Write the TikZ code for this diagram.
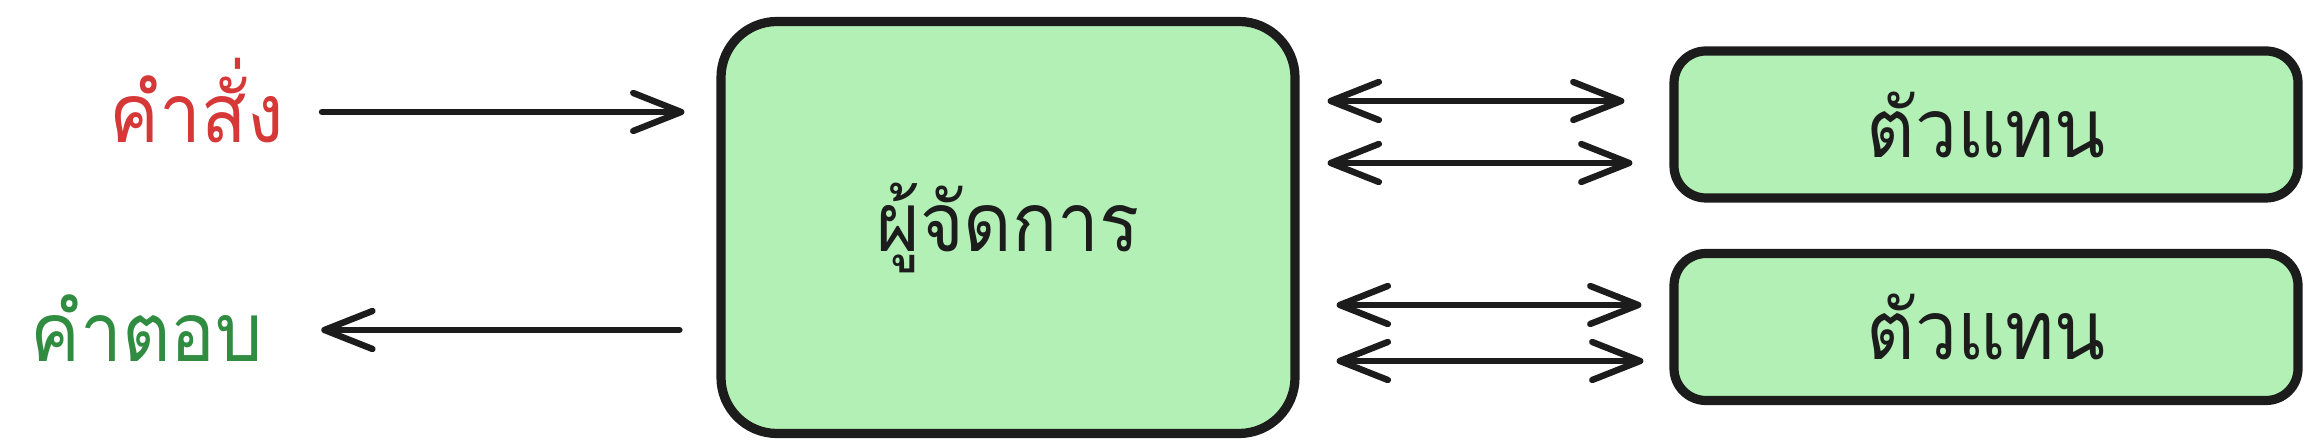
\documentclass[tikz,border=0pt]{standalone}
\usepackage{fontspec}
\usepackage{tikz}
\usetikzlibrary{calc, positioning, arrows.meta}
\newfontfamily\thaifont[Script=Thai, FakeStretch=0.91]{Loma}
\definecolor{InkBlack}{RGB}{28, 28, 28}
\definecolor{MintFill}{RGB}{178, 240, 181}
\definecolor{OrderRed}{RGB}{214, 56, 56}
\definecolor{ReplyGreen}{RGB}{48, 140, 64}

\begin{document}
\begin{tikzpicture}[x=0.5pt, y=0.5pt,
    box/.style={draw=InkBlack, fill=MintFill, line width=4.6pt, inner sep=0pt,
        font=\thaifont\fontsize{41}{48}\selectfont, text=InkBlack},
    bigbox/.style={box, rounded corners=28pt, minimum width=287pt, minimum height=206pt},
    agentbox/.style={box, rounded corners=16pt, minimum width=312pt, minimum height=73.5pt},
    label/.style={inner sep=0pt, font=\thaifont\fontsize{41}{48}\selectfont},
    flow/.style={InkBlack, line width=3.2pt, line cap=round,
        -{Straight Barb[length=24pt, width=19pt, round]}},
    duplex/.style={flow, {Straight Barb[length=24pt, width=19pt, round]}-{Straight Barb[length=24pt, width=19pt, round]}}]
    \useasboundingbox (0,0) rectangle (2318,448);

    % Entrada y salida
    \node[label, text=OrderRed, anchor=base east] (cmd) at (284,305) {คำสั่ง};
    \node[label, text=ReplyGreen, anchor=base west] (reply) at (30,86) {คำตอบ};

    % Gestor
    \node[bigbox] (mgr) at (1008,220.5) {\raisebox{-12pt}{ผู้จัดการ}};

    % Agentes
    \node[agentbox] (ag1) at (1986,323.5) {ตัวแทน};
    \node[agentbox] (ag2) at (1986,121) {ตัวแทน};

    % Flechas de entrada y salida
    \draw[flow, shorten <=19pt, shorten >=16pt] ([yshift=15.5pt]cmd.base east) -- ([yshift=15.5pt]cmd.base east -| mgr.west);
    \draw[flow, shorten <=18.5pt, shorten >=29pt] ([yshift=16pt]reply.base east -| mgr.west) -- ([yshift=16pt]reply.base east);

    % Flechas dobles hacia los agentes
    \draw[duplex, shorten <=14pt, shorten >=22.5pt] ([yshift=11.75pt]ag1.west -| mgr.east) -- ([yshift=11.75pt]ag1.west);
    \draw[duplex, shorten <=14pt, shorten >=18.5pt] ([yshift=-19.25pt]ag1.west -| mgr.east) -- ([yshift=-19.25pt]ag1.west);
    \draw[duplex, shorten <=18.5pt, shorten >=14pt] ([yshift=11pt]ag2.west -| mgr.east) -- ([yshift=11pt]ag2.west);
    \draw[duplex, shorten <=18.5pt, shorten >=13pt] ([yshift=-17pt]ag2.west -| mgr.east) -- ([yshift=-17pt]ag2.west);
\end{tikzpicture}
\end{document}
